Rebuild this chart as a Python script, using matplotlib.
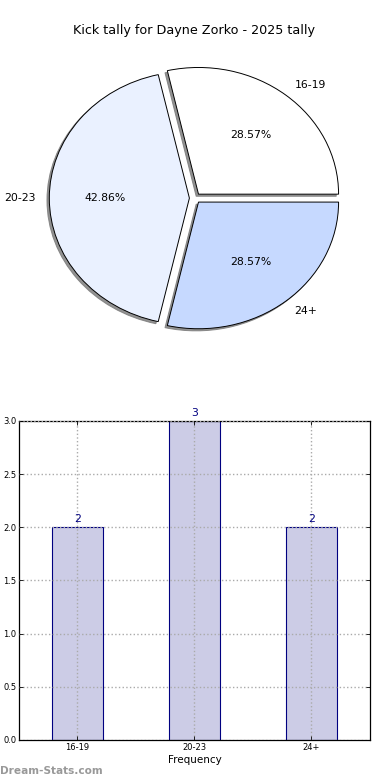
import matplotlib
matplotlib.use("Agg")
import matplotlib.pyplot as plt

categories = ["16-19", "20-23", "24+"]
counts = [2, 3, 2]
title = "Kick tally for Dayne Zorko - 2025 tally"
pie_colors = ["#ffffff", "#eaf1ff", "#c6d9ff"]
yticks = [0.0, 0.5, 1.0, 1.5, 2.0, 2.5, 3.0]

fig = plt.figure(figsize=(3.9, 7.8), dpi=100)

# Pie
ax1 = fig.add_axes([0.051, 0.543, 0.898, 0.406])
wedges, texts, autotexts = ax1.pie(
    counts, labels=categories, colors=pie_colors, explode=[0.04] * 3,
    autopct="%.2f%%", startangle=0,
    shadow=dict(ox=-0.012, oy=-0.012, color="#777777", alpha=0.8),
    wedgeprops=dict(edgecolor="black", linewidth=0.7),
    textprops=dict(fontsize=7.8))
ax1.set_aspect("auto")
ax1.set_xlim(-1.25, 1.25)
ax1.set_ylim(-1.25, 1.25)
fig.text(0.497, 0.961, title, ha="center", va="center", fontsize=9.2)

# Bars
ax2 = fig.add_axes([0.0487, 0.0513, 0.9, 0.409])
x = list(range(len(categories)))
bars = ax2.bar(x, counts, width=0.44, color="#ccccE6", edgecolor="#000080",
               linewidth=0.8, zorder=1)
for xi, v in zip(x, counts):
    ax2.text(xi, v + 0.03, str(v), ha="center", va="bottom", color="#000080",
             fontsize=7.8)
ax2.set_xlim(-0.5, 2.5)
ax2.set_ylim(0, 3.0)
ax2.set_xticks(x)
ax2.set_xticklabels(categories, fontsize=6)
ax2.set_yticks(yticks)
ax2.set_yticklabels([f"{t:.1f}" for t in yticks], fontsize=6)
ax2.tick_params(direction="in", top=True, right=True, length=3, width=0.6, pad=2)
ax2.grid(True, linestyle=":", color="#aaaaaa", linewidth=1.0, zorder=2)
ax2.set_axisbelow(False)
for s in ax2.spines.values():
    s.set_linewidth(0.9)
ax2.set_xlabel("Frequency", fontsize=7.5, labelpad=2.5)

fig.text(0.0, 0.012, "Dream-Stats.com", color="#999999", fontsize=7.6,
         fontweight="bold", ha="left", va="center")

fig.savefig("out.png", dpi=100)
